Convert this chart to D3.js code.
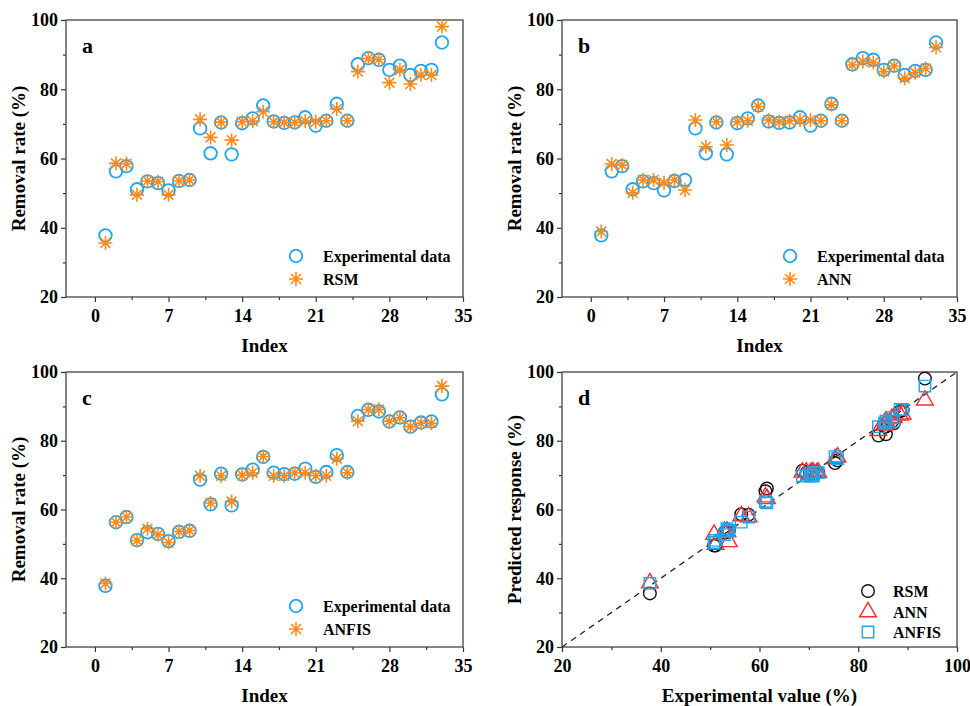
<!DOCTYPE html>
<html>
<head>
<meta charset="utf-8">
<script src="https://cdn.jsdelivr.net/npm/d3@7"></script>
<style>
  body { margin: 0; background: #fff; }
  svg text { font-family: "Liberation Serif", "Times New Roman", serif; font-weight: bold; fill: #000; }
</style>
</head>
<body>
<div class="mainContent"></div>
<script>
const w = 970;
const h = 706;

// data
const runIndex = d3.range(1, 34);
const experimental = [37.8, 56.3, 57.8, 51.1, 53.4, 52.9, 50.8, 53.5, 53.8, 68.7, 61.5, 70.4, 61.2, 70.2, 71.6, 75.3,
    70.7, 70.3, 70.4, 71.9, 69.5, 70.9, 75.8, 70.9, 87.2, 89.0, 88.5, 85.6, 86.8, 84.1, 85.3, 85.6, 93.5];
const rsm = [35.6, 58.6, 58.5, 49.5, 53.5, 53.3, 49.5, 53.5, 53.8, 71.3, 66.1, 70.5, 65.3, 70.6, 70.8, 73.5,
    70.6, 70.4, 70.4, 70.8, 70.6, 70.9, 74.3, 70.9, 85.1, 88.9, 88.6, 81.9, 85.6, 81.5, 84.1, 84.1, 98.1];
const ann = [38.9, 58.4, 58.1, 50.1, 53.8, 53.8, 53.0, 53.8, 50.9, 71.1, 63.4, 70.6, 63.9, 70.6, 70.9, 75.0,
    71.1, 70.6, 70.9, 71.1, 71.1, 70.9, 75.5, 70.9, 87.0, 88.0, 87.7, 85.1, 86.7, 83.2, 84.8, 86.0, 92.1];
const anfis = [38.5, 56.3, 57.8, 51.0, 54.4, 52.7, 50.4, 53.6, 53.9, 69.8, 61.9, 69.8, 62.3, 70.0, 70.7, 75.4,
    69.8, 69.8, 70.6, 70.7, 69.8, 69.8, 74.8, 70.7, 85.7, 89.1, 89.1, 85.7, 86.7, 84.1, 85.1, 85.1, 95.9];

const indexTicks = [0, 7, 14, 21, 28, 35];
const indexMinor = [3.5, 10.5, 17.5, 24.5, 31.5];
const rateTicks = [20, 40, 60, 80, 100];
const rateMinor = [30, 50, 70, 90];

const blue = '#1ea6f2';
const orange = '#ff8a1c';
const red = '#ff2a2a';
const serif = '"Liberation Serif", "Times New Roman", serif';

const svg = d3.select('.mainContent')
    .append('svg')
    .attr('width', w)
    .attr('height', h);

// asterisk with 8 arms
function starPath(r) {
    const a = r * Math.SQRT1_2;
    return `M${-r},0L${r},0M0,${-r}L0,${r}M${-a},${-a}L${a},${a}M${-a},${a}L${a},${-a}`;
}

function drawFrame(g, x, y, xTicks, xMinor, xTitle, yTitle, letter) {
    const [x0, x1] = x.range();
    const [y0, y1] = y.range();

    const xAxis = d3.axisBottom(x).tickValues(xTicks).tickSize(5).tickPadding(7).tickFormat(d3.format('d'));
    const xMin = d3.axisBottom(x).tickValues(xMinor).tickSize(3).tickFormat('');
    const yAxis = d3.axisLeft(y).tickValues(rateTicks).tickSize(5).tickPadding(3).tickFormat(d3.format('d'));
    const yMin = d3.axisLeft(y).tickValues(rateMinor).tickSize(3).tickFormat('');

    [xAxis, xMin].forEach(ax => {
        g.append('g').attr('transform', `translate(0,${y0})`).call(ax);
    });
    [yAxis, yMin].forEach(ax => {
        g.append('g').attr('transform', `translate(${x0},0)`).call(ax);
    });
    g.selectAll('.domain').remove();
    g.selectAll('.tick line').attr('stroke', '#333').attr('stroke-width', 1.2);
    g.selectAll('.tick text').style('font-size', '18px').style('font-family', serif)
        .style('font-weight', 'bold').attr('fill', '#000');

    g.append('rect')
        .attr('x', x0).attr('y', y1)
        .attr('width', x1 - x0).attr('height', y0 - y1)
        .attr('fill', 'none').attr('stroke', '#444').attr('stroke-width', 1.3);

    g.append('text')
        .attr('x', (x0 + x1) / 2).attr('y', y0 + 55)
        .attr('text-anchor', 'middle').style('font-size', '19px')
        .text(xTitle);
    g.append('text')
        .attr('transform', `translate(${x0 - 41},${(y0 + y1) / 2}) rotate(-90)`)
        .attr('text-anchor', 'middle').style('font-size', '19px')
        .text(yTitle);
    g.append('text')
        .attr('x', x0 + 16).attr('y', y1 + 33)
        .style('font-size', '22px')
        .text(letter);
}

function indexPanel(left, top, right, bottom, model, modelName, letter) {
    const g = svg.append('g');
    const x = d3.scaleLinear().domain([-2.75, 35]).range([left, right]);
    const y = d3.scaleLinear().domain([20, 100]).range([bottom, top]);

    drawFrame(g, x, y, indexTicks, indexMinor, 'Index', 'Removal rate (%)', letter);

    g.selectAll('circle.exp')
        .data(runIndex)
        .enter()
        .append('circle')
        .attr('class', 'exp')
        .attr('cx', d => x(d))
        .attr('cy', (d, i) => y(experimental[i]))
        .attr('r', 6.3)
        .attr('fill', 'none')
        .attr('stroke', blue)
        .attr('stroke-width', 1.8);

    g.selectAll('path.model')
        .data(runIndex)
        .enter()
        .append('path')
        .attr('class', 'model')
        .attr('d', starPath(7))
        .attr('transform', (d, i) => `translate(${x(d)},${y(model[i])})`)
        .attr('stroke', orange)
        .attr('stroke-width', 1.6)
        .attr('fill', 'none');

    // legend
    const lx = right - 167;
    const ly = bottom - 41;
    g.append('circle').attr('cx', lx).attr('cy', ly).attr('r', 6.3)
        .attr('fill', 'none').attr('stroke', blue).attr('stroke-width', 1.8);
    g.append('path').attr('d', starPath(7)).attr('transform', `translate(${lx},${ly + 23})`)
        .attr('stroke', orange).attr('stroke-width', 1.6);
    g.append('text').attr('x', lx + 27).attr('y', ly + 6).style('font-size', '16px').text('Experimental data');
    g.append('text').attr('x', lx + 27).attr('y', ly + 29).style('font-size', '16px').text(modelName);
}

function parityPanel(left, top, right, bottom) {
    const g = svg.append('g');
    const x = d3.scaleLinear().domain([20, 100]).range([left, right]);
    const y = d3.scaleLinear().domain([20, 100]).range([bottom, top]);

    drawFrame(g, x, y, rateTicks, rateMinor, 'Experimental value (%)', 'Predicted response (%)', 'd');

    g.append('line')
        .attr('x1', x(20)).attr('y1', y(20))
        .attr('x2', x(100)).attr('y2', y(100))
        .attr('stroke', '#222').attr('stroke-width', 1.3)
        .attr('stroke-dasharray', '6,5');

    const triangle = d3.symbol().type(d3.symbolTriangle).size(120);
    const square = d3.symbol().type(d3.symbolSquare).size(130);

    g.selectAll('circle.rsm')
        .data(experimental)
        .enter()
        .append('circle')
        .attr('class', 'rsm')
        .attr('cx', d => x(d))
        .attr('cy', (d, i) => y(rsm[i]))
        .attr('r', 6.3)
        .attr('fill', 'none').attr('stroke', '#111').attr('stroke-width', 1.4);

    g.selectAll('path.ann')
        .data(experimental)
        .enter()
        .append('path')
        .attr('class', 'ann')
        .attr('d', triangle)
        .attr('transform', (d, i) => `translate(${x(d)},${y(ann[i]) + 1})`)
        .attr('fill', 'none').attr('stroke', red).attr('stroke-width', 1.4);

    g.selectAll('path.anfis')
        .data(experimental)
        .enter()
        .append('path')
        .attr('class', 'anfis')
        .attr('d', square)
        .attr('transform', (d, i) => `translate(${x(d)},${y(anfis[i])})`)
        .attr('fill', 'none').attr('stroke', blue).attr('stroke-width', 1.4);

    // legend
    const lx = right - 89;
    const ly = bottom - 56;
    g.append('circle').attr('cx', lx).attr('cy', ly).attr('r', 6.3)
        .attr('fill', 'none').attr('stroke', '#111').attr('stroke-width', 1.4);
    g.append('path').attr('d', triangle).attr('transform', `translate(${lx},${ly + 21})`)
        .attr('fill', 'none').attr('stroke', red).attr('stroke-width', 1.4);
    g.append('path').attr('d', square).attr('transform', `translate(${lx},${ly + 41})`)
        .attr('fill', 'none').attr('stroke', blue).attr('stroke-width', 1.4);
    ['RSM', 'ANN', 'ANFIS'].forEach((name, i) => {
        g.append('text').attr('x', lx + 25).attr('y', ly + 6 + i * 20.5)
            .style('font-size', '16px').text(name);
    });
}

indexPanel(66, 20, 463, 297, rsm, 'RSM', 'a');
indexPanel(562, 20, 957, 297, ann, 'ANN', 'b');
indexPanel(66, 372, 463, 647, anfis, 'ANFIS', 'c');
parityPanel(562, 372, 957, 647);
</script>
</body>
</html>
